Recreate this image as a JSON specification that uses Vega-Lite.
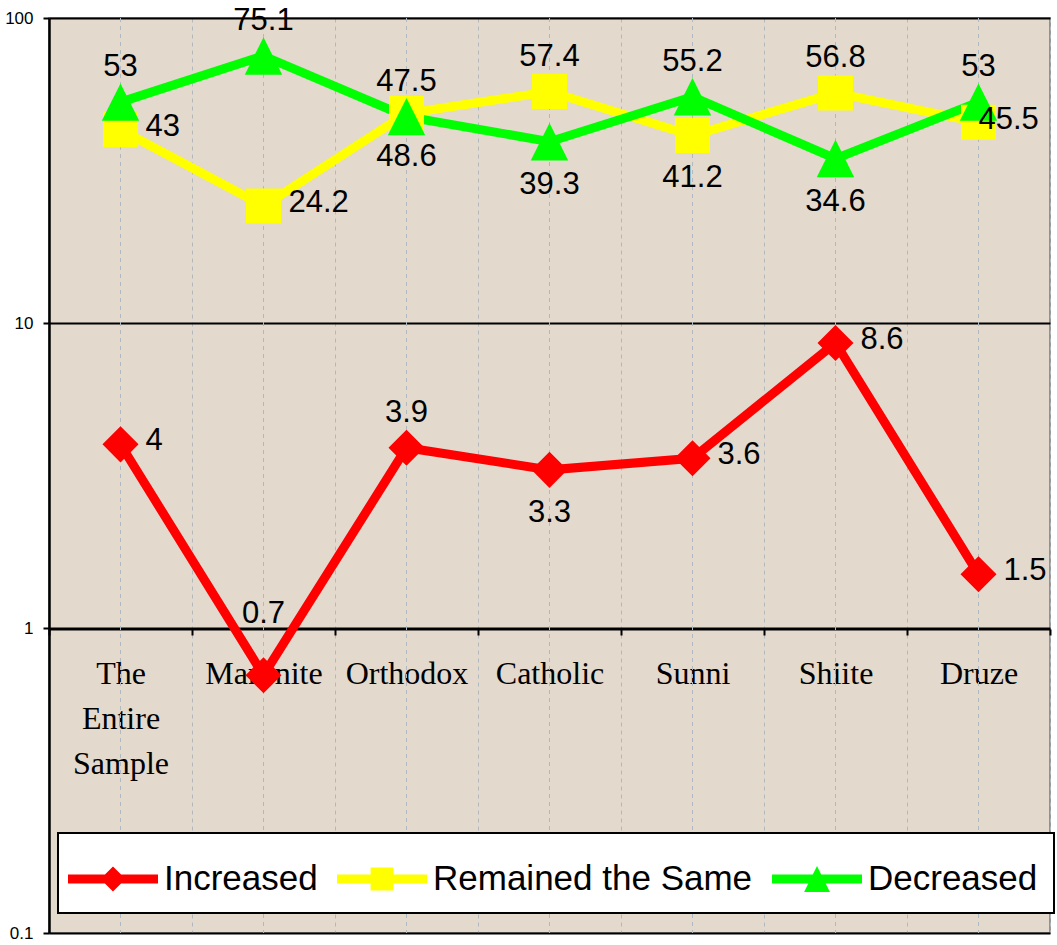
{
  "$schema": "https://vega.github.io/schema/vega-lite/v6.json",
  "width": 1001,
  "height": 915,
  "autosize": {"type": "none"},
  "padding": {"left": 49, "top": 18, "right": 7, "bottom": 12},
  "background": "white",
  "config": {
    "view": {"fill": "#e3d9cc", "stroke": "#7a7a7a", "strokeWidth": 1.5},
    "text": {"font": "Liberation Sans", "fontSize": 31, "color": "black"}
  },
  "data": {
    "values": [
      {"cat": "The Entire Sample", "series": "Increased", "value": 4},
      {"cat": "Maronite", "series": "Increased", "value": 0.7},
      {"cat": "Orthodox", "series": "Increased", "value": 3.9},
      {"cat": "Catholic", "series": "Increased", "value": 3.3},
      {"cat": "Sunni", "series": "Increased", "value": 3.6},
      {"cat": "Shiite", "series": "Increased", "value": 8.6},
      {"cat": "Druze", "series": "Increased", "value": 1.5},
      {"cat": "The Entire Sample", "series": "Remained the Same", "value": 43},
      {"cat": "Maronite", "series": "Remained the Same", "value": 24.2},
      {"cat": "Orthodox", "series": "Remained the Same", "value": 48.6},
      {"cat": "Catholic", "series": "Remained the Same", "value": 57.4},
      {"cat": "Sunni", "series": "Remained the Same", "value": 41.2},
      {"cat": "Shiite", "series": "Remained the Same", "value": 56.8},
      {"cat": "Druze", "series": "Remained the Same", "value": 45.5},
      {"cat": "The Entire Sample", "series": "Decreased", "value": 53},
      {"cat": "Maronite", "series": "Decreased", "value": 75.1},
      {"cat": "Orthodox", "series": "Decreased", "value": 47.5},
      {"cat": "Catholic", "series": "Decreased", "value": 39.3},
      {"cat": "Sunni", "series": "Decreased", "value": 55.2},
      {"cat": "Shiite", "series": "Decreased", "value": 34.6},
      {"cat": "Druze", "series": "Decreased", "value": 53}
    ]
  },
  "layer": [
    {
      "transform": [{"filter": "datum.series == 'Increased'"}],
      "mark": {"type": "rule", "strokeDash": [4, 4], "color": "#b0b8c0", "strokeWidth": 1},
      "encoding": {
        "x": {"field": "cat", "type": "nominal", "sort": ["The Entire Sample", "Maronite", "Orthodox", "Catholic", "Sunni", "Shiite", "Druze"]}
      }
    },
    {
      "mark": {"type": "line", "strokeWidth": 9},
      "encoding": {
        "x": {
          "field": "cat", "type": "nominal",
          "sort": ["The Entire Sample", "Maronite", "Orthodox", "Catholic", "Sunni", "Shiite", "Druze"],
          "scale": {"type": "band", "paddingInner": 0, "paddingOuter": 0},
          "axis": {
            "title": null, "orient": "bottom", "offset": -304,
            "domain": true, "domainColor": "black", "domainWidth": 2,
            "ticks": true, "tickBand": "extent", "tickColor": "black", "tickWidth": 2, "tickSize": 6,
            "grid": true, "gridColor": "#b0b8c0", "gridDash": [4, 4], "gridWidth": 1,
            "labelFont": "Liberation Serif", "labelFontSize": 32, "labelColor": "black",
            "labelAngle": 0, "labelAlign": "center", "labelPadding": 38, "labelLineHeight": 45, "labelOverlap": false, "labelLimit": 0,
            "labelExpr": "datum.label == 'The Entire Sample' ? ['The', 'Entire', 'Sample'] : datum.label"
          }
        },
        "y": {
          "field": "value", "type": "quantitative",
          "scale": {"type": "log", "domain": [0.1, 100], "nice": false},
          "axis": {
            "title": null, "values": [0.1, 1, 10, 100], "format": "~g",
            "labelFont": "Liberation Sans", "labelFontSize": 17, "labelColor": "black", "labelPadding": 10,
            "tickSize": 6, "tickColor": "black", "tickWidth": 2,
            "domainColor": "black", "domainWidth": 2.5,
            "grid": true, "gridColor": "black", "gridWidth": 2
          }
        },
        "color": {
          "field": "series", "type": "nominal",
          "scale": {"domain": ["Increased", "Remained the Same", "Decreased"], "range": ["#ff0000", "#ffff00", "#00ff00"]},
          "legend": {
            "title": null, "orient": "none", "legendX": 9, "legendY": 815, "direction": "horizontal",
            "fillColor": "white", "strokeColor": "black", "padding": 16,
            "symbolSize": 3600, "labelFont": "Liberation Sans", "labelFontSize": 35, "labelColor": "black",
            "labelOffset": 30, "columnPadding": 19, "labelLimit": 0,
            "encode": {
              "legend": {"update": {"strokeWidth": {"value": 2}}},
              "symbols": {
                "update": {
                  "shape": {"signal": "datum.value === 'Increased' ? 'M-1.2,-0.15H1.8V0.15H-1.2ZM0.3,-0.42L0.72,0L0.3,0.42L-0.12,0Z' : datum.value === 'Remained the Same' ? 'M-1.2,-0.15H1.8V0.15H-1.2ZM-0.08,-0.38H0.68V0.38H-0.08Z' : 'M-1.2,-0.15H1.8V0.15H-1.2ZM0.3,-0.43L0.73,0.43L-0.13,0.43Z'"},
                  "fill": {"signal": "scale('color', datum.value)"},
                  "stroke": {"value": "transparent"},
                  "strokeWidth": {"value": 0},
                  "size": {"value": 3600},
                  "opacity": {"value": 1}
                }
              }
            }
          }
        }
      }
    },
    {
      "transform": [{"filter": "datum.series == 'Increased'"}],
      "mark": {"type": "point", "shape": "diamond", "filled": true, "opacity": 1, "strokeWidth": 0, "size": 1300},
      "encoding": {
        "x": {"field": "cat", "type": "nominal", "sort": ["The Entire Sample", "Maronite", "Orthodox", "Catholic", "Sunni", "Shiite", "Druze"]},
        "y": {"field": "value", "type": "quantitative"},
        "color": {"field": "series", "type": "nominal"}
      }
    },
    {
      "transform": [{"filter": "datum.series == 'Remained the Same'"}],
      "mark": {"type": "point", "shape": "square", "filled": true, "opacity": 1, "strokeWidth": 0, "size": 1225},
      "encoding": {
        "x": {"field": "cat", "type": "nominal", "sort": ["The Entire Sample", "Maronite", "Orthodox", "Catholic", "Sunni", "Shiite", "Druze"]},
        "y": {"field": "value", "type": "quantitative"},
        "color": {"field": "series", "type": "nominal"}
      }
    },
    {
      "transform": [{"filter": "datum.series == 'Decreased'"}],
      "mark": {"type": "point", "shape": "M0,-1L1,1L-1,1Z", "filled": true, "opacity": 1, "strokeWidth": 0, "size": 1400},
      "encoding": {
        "x": {"field": "cat", "type": "nominal", "sort": ["The Entire Sample", "Maronite", "Orthodox", "Catholic", "Sunni", "Shiite", "Druze"]},
        "y": {"field": "value", "type": "quantitative"},
        "color": {"field": "series", "type": "nominal"}
      }
    },
    {
      "transform": [{"filter": "(datum.series == 'Decreased' && indexof(['The Entire Sample','Maronite','Orthodox','Sunni','Druze'], datum.cat) >= 0) || (datum.series == 'Remained the Same' && indexof(['Catholic','Shiite'], datum.cat) >= 0) || (datum.series == 'Increased' && datum.cat == 'Orthodox')"}],
      "mark": {"type": "text", "align": "center", "baseline": "alphabetic", "dy": -26},
      "encoding": {
        "x": {"field": "cat", "type": "nominal", "sort": ["The Entire Sample", "Maronite", "Orthodox", "Catholic", "Sunni", "Shiite", "Druze"]},
        "y": {"field": "value", "type": "quantitative"},
        "text": {"field": "value", "type": "quantitative", "format": "~g"}
      }
    },
    {
      "transform": [{"filter": "datum.series == 'Increased' && datum.cat == 'Maronite'"}],
      "mark": {"type": "text", "align": "center", "baseline": "alphabetic", "dy": -52},
      "encoding": {
        "x": {"field": "cat", "type": "nominal", "sort": ["The Entire Sample", "Maronite", "Orthodox", "Catholic", "Sunni", "Shiite", "Druze"]},
        "y": {"field": "value", "type": "quantitative"},
        "text": {"field": "value", "type": "quantitative", "format": "~g"}
      }
    },
    {
      "transform": [{"filter": "(datum.series == 'Remained the Same' && indexof(['Orthodox','Sunni'], datum.cat) >= 0) || (datum.series == 'Decreased' && indexof(['Catholic','Shiite'], datum.cat) >= 0) || (datum.series == 'Increased' && datum.cat == 'Catholic')"}],
      "mark": {"type": "text", "align": "center", "baseline": "top", "dy": 28},
      "encoding": {
        "x": {"field": "cat", "type": "nominal", "sort": ["The Entire Sample", "Maronite", "Orthodox", "Catholic", "Sunni", "Shiite", "Druze"]},
        "y": {"field": "value", "type": "quantitative"},
        "text": {"field": "value", "type": "quantitative", "format": "~g"}
      }
    },
    {
      "transform": [{"filter": "(datum.series == 'Remained the Same' && indexof(['The Entire Sample','Maronite'], datum.cat) >= 0) || (datum.series == 'Increased' && indexof(['The Entire Sample','Sunni','Shiite','Druze'], datum.cat) >= 0)"}],
      "mark": {"type": "text", "align": "left", "baseline": "middle", "dx": 25, "dy": -3},
      "encoding": {
        "x": {"field": "cat", "type": "nominal", "sort": ["The Entire Sample", "Maronite", "Orthodox", "Catholic", "Sunni", "Shiite", "Druze"]},
        "y": {"field": "value", "type": "quantitative"},
        "text": {"field": "value", "type": "quantitative", "format": "~g"}
      }
    },
    {
      "transform": [{"filter": "datum.series == 'Remained the Same' && datum.cat == 'Druze'"}],
      "mark": {"type": "text", "align": "left", "baseline": "middle", "dx": 0, "dy": -2},
      "encoding": {
        "x": {"field": "cat", "type": "nominal", "sort": ["The Entire Sample", "Maronite", "Orthodox", "Catholic", "Sunni", "Shiite", "Druze"]},
        "y": {"field": "value", "type": "quantitative"},
        "text": {"field": "value", "type": "quantitative", "format": "~g"}
      }
    }
  ]
}
